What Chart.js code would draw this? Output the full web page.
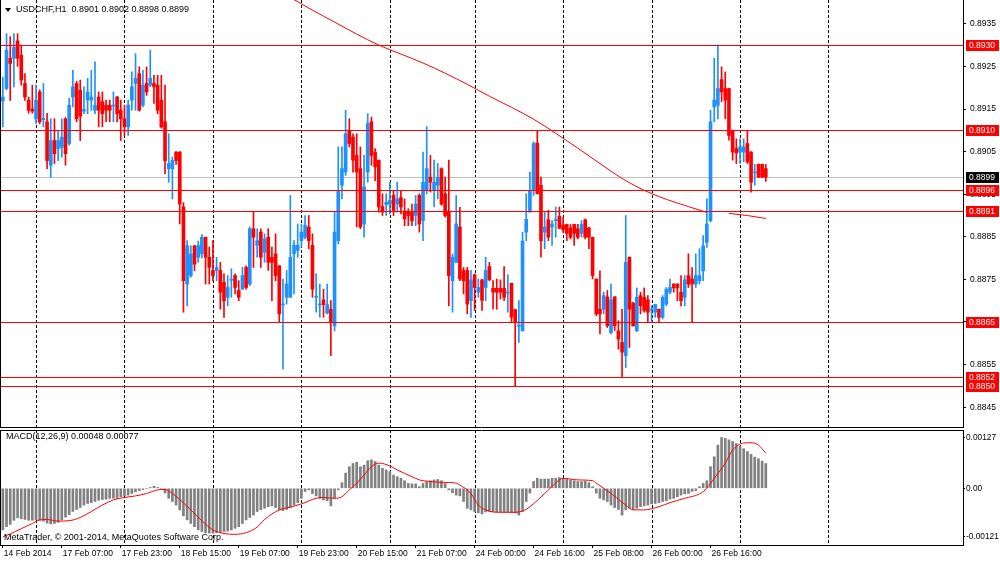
<!DOCTYPE html>
<html>
<head>
<meta charset="utf-8">
<title>USDCHF,H1</title>
<script src="https://cdn.jsdelivr.net/npm/chart.js@4.4.1/dist/chart.umd.min.js"></script>
<style>
  body { margin: 0; background: #fff; }
  #wrap { position: relative; width: 1000px; height: 561px; overflow: hidden; font-family: "Liberation Sans", Arial, sans-serif; }
  #wrap canvas { position: absolute; left: 0; }
  .txt { position: absolute; font-size: 9px; line-height: 11px; color: #000; white-space: pre; }
  .tri { position: absolute; left: 5px; top: 8px; width: 0; height: 0;
         border-left: 3px solid transparent; border-right: 3px solid transparent; border-top: 4px solid #000; }
</style>
</head>
<body>
<div id="wrap">
  <canvas id="price-graph" width="1000" height="430" style="top:0"></canvas>
  <canvas id="macd-graph" width="1000" height="131" style="top:430px"></canvas>
  <div class="tri"></div>
  <div class="txt" style="left:16px;top:4px">USDCHF,H1  0.8901 0.8902 0.8898 0.8899</div>
  <div class="txt" style="left:6px;top:431px">MACD(12,26,9) 0.00048 0.00077</div>
  <div class="txt" style="left:4px;top:532px">MetaTrader, © 2001-2014, MetaQuotes Software Corp.</div>
</div>
<script>
// H1 bars, 14 Feb 2014 15:00 .. 27 Feb 2014 07:00
var openP = [0.89169,0.89198,0.89269,0.89269,0.89310,0.89276,0.89210,0.89171,0.89150,0.89127,
  0.89190,0.89125,0.89120,0.89018,0.89076,0.89057,0.89060,0.89127,0.89069,0.89178,
  0.89210,0.89194,0.89145,0.89171,0.89171,0.89147,0.89178,0.89167,0.89159,0.89159,
  0.89157,0.89178,0.89147,0.89127,0.89108,0.89171,0.89210,0.89233,0.89159,0.89210,
  0.89206,0.89210,0.89206,0.89171,0.89120,0.89010,0.89010,0.89049,0.89049,0.88920,
  0.88739,0.88759,0.88829,0.88802,0.88810,0.88849,0.88802,0.88771,0.88771,0.88771,
  0.88743,0.88708,0.88748,0.88759,0.88724,0.88727,0.88778,0.88739,0.88869,0.88830,
  0.88861,0.88814,0.88849,0.88802,0.88810,0.88782,0.88690,0.88708,0.88708,0.88810,
  0.88818,0.88841,0.88849,0.88873,0.88830,0.88708,0.88690,0.88702,0.88671,0.88680,
  0.88641,0.88841,0.88971,0.89002,0.89100,0.89084,0.89041,0.89010,0.88880,0.89002,
  0.89120,0.89049,0.89030,0.88921,0.88926,0.88927,0.88947,0.88927,0.88942,0.88908,
  0.88908,0.88908,0.88900,0.88947,0.88888,0.88959,0.88990,0.88959,0.88971,0.89010,
  0.88951,0.88908,0.88747,0.88790,0.88873,0.88771,0.88771,0.88700,0.88761,0.88720,
  0.88749,0.88731,0.88780,0.88729,0.88729,0.88729,0.88729,0.88718,0.88741,0.88679,
  0.88640,0.88629,0.88861,0.88908,0.88959,0.89070,0.88971,0.88861,0.88890,0.88873,
  0.88888,0.88898,0.88878,0.88879,0.88871,0.88879,0.88869,0.88858,0.88890,0.88871,
  0.88849,0.88751,0.88680,0.88680,0.88709,0.88625,0.88709,0.88629,0.88602,0.88571,
  0.88802,0.88694,0.88629,0.88712,0.88708,0.88702,0.88678,0.88673,0.88680,0.88661,
  0.88692,0.88720,0.88739,0.88739,0.88720,0.88708,0.88759,0.88751,0.88739,0.88747,
  0.88770,0.88837,0.88888,0.89155,0.89159,0.89219,0.89198,0.89198,0.89100,0.89057,
  0.89049,0.89049,0.89069,0.89049,0.89000,0.89020,0.89020,0.89010];
var highP = [0.89225,0.89327,0.89320,0.89327,0.89327,0.89300,0.89233,0.89178,0.89206,0.89206,
  0.89195,0.89210,0.89140,0.89127,0.89127,0.89100,0.89127,0.89130,0.89175,0.89241,
  0.89215,0.89218,0.89202,0.89222,0.89241,0.89261,0.89190,0.89190,0.89171,0.89171,
  0.89190,0.89180,0.89171,0.89159,0.89171,0.89237,0.89280,0.89249,0.89241,0.89249,
  0.89288,0.89229,0.89229,0.89229,0.89206,0.89092,0.89037,0.89050,0.89050,0.88930,
  0.88841,0.88829,0.88830,0.88840,0.88855,0.88849,0.88826,0.88841,0.88802,0.88790,
  0.88763,0.88759,0.88775,0.88763,0.88747,0.88778,0.88782,0.88873,0.88908,0.88869,
  0.88869,0.88857,0.88869,0.88826,0.88857,0.88782,0.88751,0.88771,0.88947,0.88841,
  0.88880,0.88880,0.88900,0.88900,0.88857,0.88763,0.88739,0.88727,0.88739,0.88700,
  0.88908,0.89061,0.89061,0.89147,0.89127,0.89092,0.89092,0.89061,0.89041,0.89139,
  0.89131,0.89057,0.89030,0.88951,0.88951,0.88978,0.88959,0.88978,0.88959,0.88939,
  0.88916,0.88927,0.88947,0.88951,0.89049,0.89109,0.89041,0.89030,0.89022,0.89012,
  0.88990,0.89030,0.88810,0.88947,0.88919,0.88778,0.88778,0.88771,0.88763,0.88751,
  0.88751,0.88802,0.88790,0.88747,0.88751,0.88749,0.88780,0.88761,0.88741,0.88680,
  0.88700,0.88861,0.88951,0.89002,0.89073,0.89100,0.88990,0.88908,0.88912,0.88888,
  0.88920,0.88920,0.88896,0.88880,0.88879,0.88880,0.88879,0.88888,0.88892,0.88872,
  0.88849,0.88751,0.88770,0.88720,0.88724,0.88739,0.88710,0.88653,0.88680,0.88900,
  0.88803,0.88696,0.88730,0.88720,0.88730,0.88712,0.88688,0.88692,0.88681,0.88712,
  0.88731,0.88751,0.88740,0.88740,0.88759,0.88759,0.88810,0.88778,0.88810,0.88822,
  0.88853,0.88939,0.89147,0.89269,0.89300,0.89249,0.89237,0.89199,0.89101,0.89080,
  0.89080,0.89080,0.89100,0.89050,0.89020,0.89021,0.89021,0.89020];
var lowP = [0.89108,0.89195,0.89170,0.89202,0.89250,0.89206,0.89170,0.89140,0.89140,0.89116,
  0.89115,0.89108,0.89010,0.88990,0.89022,0.89029,0.89037,0.89018,0.89065,0.89155,
  0.89120,0.89076,0.89139,0.89139,0.89147,0.89139,0.89108,0.89108,0.89120,0.89120,
  0.89120,0.89120,0.89076,0.89088,0.89088,0.89147,0.89147,0.89145,0.89155,0.89182,
  0.89202,0.89163,0.89139,0.89105,0.88998,0.88978,0.88939,0.89020,0.88880,0.88673,
  0.88688,0.88755,0.88770,0.88790,0.88800,0.88739,0.88739,0.88747,0.88747,0.88680,
  0.88661,0.88688,0.88708,0.88716,0.88700,0.88727,0.88727,0.88735,0.88778,0.88802,
  0.88778,0.88790,0.88771,0.88700,0.88747,0.88649,0.88539,0.88692,0.88708,0.88716,
  0.88802,0.88826,0.88845,0.88822,0.88708,0.88673,0.88661,0.88661,0.88669,0.88571,
  0.88629,0.88833,0.88939,0.88994,0.89061,0.89002,0.88873,0.88869,0.88849,0.88978,
  0.89018,0.88982,0.88908,0.88900,0.88900,0.88904,0.88900,0.88908,0.88904,0.88876,
  0.88876,0.88876,0.88876,0.88861,0.88841,0.88951,0.88955,0.88920,0.88939,0.88924,
  0.88896,0.88688,0.88673,0.88790,0.88747,0.88716,0.88669,0.88661,0.88677,0.88708,
  0.88677,0.88700,0.88747,0.88680,0.88680,0.88704,0.88700,0.88673,0.88649,0.88500,
  0.88602,0.88629,0.88841,0.88908,0.88947,0.88951,0.88802,0.88822,0.88841,0.88830,
  0.88849,0.88869,0.88861,0.88841,0.88845,0.88830,0.88845,0.88849,0.88845,0.88822,
  0.88751,0.88665,0.88622,0.88669,0.88637,0.88622,0.88630,0.88586,0.88520,0.88543,
  0.88590,0.88640,0.88628,0.88669,0.88673,0.88649,0.88649,0.88661,0.88649,0.88657,
  0.88688,0.88716,0.88720,0.88700,0.88688,0.88688,0.88731,0.88649,0.88731,0.88739,
  0.88747,0.88825,0.88885,0.89120,0.89127,0.89167,0.89127,0.89077,0.89030,0.89022,
  0.89022,0.89026,0.89022,0.88955,0.88971,0.88989,0.88989,0.88980];
var closeP = [0.89178,0.89288,0.89257,0.89295,0.89269,0.89218,0.89178,0.89147,0.89145,0.89171,
  0.89120,0.89128,0.89029,0.89076,0.89045,0.89076,0.89084,0.89045,0.89159,0.89202,
  0.89127,0.89133,0.89149,0.89190,0.89178,0.89159,0.89147,0.89139,0.89147,0.89147,
  0.89159,0.89139,0.89127,0.89108,0.89159,0.89202,0.89222,0.89147,0.89206,0.89190,
  0.89222,0.89202,0.89147,0.89108,0.89029,0.89022,0.89029,0.89029,0.88927,0.88747,
  0.88829,0.88810,0.88786,0.88829,0.88849,0.88802,0.88778,0.88759,0.88778,0.88720,
  0.88700,0.88731,0.88750,0.88731,0.88708,0.88759,0.88731,0.88869,0.88849,0.88841,
  0.88802,0.88845,0.88790,0.88790,0.88759,0.88669,0.88692,0.88739,0.88802,0.88830,
  0.88830,0.88861,0.88877,0.88841,0.88727,0.88710,0.88692,0.88691,0.88691,0.88649,
  0.88861,0.88959,0.89010,0.89092,0.89069,0.89030,0.89002,0.88873,0.88967,0.89116,
  0.89041,0.89014,0.88920,0.88908,0.88931,0.88935,0.88912,0.88939,0.88920,0.88892,
  0.88900,0.88888,0.88927,0.88880,0.88978,0.89010,0.88978,0.88978,0.88990,0.88927,
  0.88900,0.88759,0.88802,0.88880,0.88751,0.88747,0.88692,0.88749,0.88731,0.88731,
  0.88701,0.88771,0.88749,0.88720,0.88720,0.88720,0.88708,0.88720,0.88661,0.88649,
  0.88642,0.88840,0.88891,0.88959,0.89069,0.88951,0.88841,0.88873,0.88849,0.88880,
  0.88890,0.88870,0.88867,0.88858,0.88849,0.88858,0.88849,0.88879,0.88849,0.88849,
  0.88759,0.88669,0.88669,0.88712,0.88641,0.88702,0.88641,0.88610,0.88579,0.88790,
  0.88680,0.88641,0.88708,0.88688,0.88677,0.88673,0.88680,0.88691,0.88661,0.88708,
  0.88727,0.88731,0.88730,0.88730,0.88700,0.88749,0.88739,0.88739,0.88759,0.88759,
  0.88829,0.88880,0.89120,0.89171,0.89198,0.89190,0.89171,0.89088,0.89049,0.89047,
  0.89061,0.89061,0.89026,0.88978,0.89002,0.88990,0.88990,0.88990];

// moving average (two pieces, it breaks at 26 Feb 17:00)
var maBarsA = [78, 84, 90, 96, 102, 108, 114, 120, 126, 132, 138, 144, 150, 156, 162, 168, 174, 180, 186, 191];
var maValuesA = [0.89412, 0.89382, 0.89354, 0.89326, 0.89300, 0.89279, 0.89258, 0.89234, 0.89208, 0.89180,
  0.89154, 0.89126, 0.89093, 0.89058, 0.89022, 0.88987, 0.88959, 0.88938, 0.88921, 0.88907];
var maBarsB = [197, 202, 207];
var maValuesB = [0.88905, 0.88900, 0.88893];

// MACD(12,26,9) histogram, one value per bar
var macdMain = [-0.00104,-0.00096,-0.00090,-0.00080,-0.00074,-0.00076,-0.00078,-0.00080,-0.00080,-0.00079,
  -0.00080,-0.00082,-0.00087,-0.00089,-0.00088,-0.00085,-0.00079,-0.00072,-0.00066,-0.00058,
  -0.00053,-0.00048,-0.00042,-0.00038,-0.00036,-0.00033,-0.00030,-0.00028,-0.00027,-0.00025,
  -0.00025,-0.00025,-0.00021,-0.00019,-0.00017,-0.00013,-0.00009,-0.00006,-0.00003,0.00000,
  0.00002,0.00005,0.00002,-0.00003,-0.00012,-0.00025,-0.00033,-0.00042,-0.00054,-0.00069,
  -0.00079,-0.00088,-0.00096,-0.00104,-0.00108,-0.00111,-0.00112,-0.00112,-0.00111,-0.00111,
  -0.00108,-0.00107,-0.00104,-0.00100,-0.00096,-0.00088,-0.00079,-0.00073,-0.00067,-0.00058,
  -0.00054,-0.00050,-0.00046,-0.00044,-0.00048,-0.00054,-0.00056,-0.00053,-0.00048,-0.00042,
  -0.00036,-0.00025,-0.00008,-0.00004,-0.00013,-0.00019,-0.00025,-0.00029,-0.00031,-0.00044,
  -0.00025,-0.00004,0.00014,0.00038,0.00054,0.00062,0.00065,0.00054,0.00058,0.00069,
  0.00071,0.00067,0.00058,0.00050,0.00046,0.00042,0.00033,0.00029,0.00025,0.00019,
  0.00012,0.00011,0.00011,0.00004,0.00012,0.00017,0.00019,0.00021,0.00022,0.00019,
  0.00012,-0.00004,-0.00011,-0.00017,-0.00019,-0.00033,-0.00050,-0.00054,-0.00058,-0.00061,
  -0.00064,-0.00059,-0.00058,-0.00059,-0.00059,-0.00059,-0.00059,-0.00059,-0.00061,-0.00062,
  -0.00067,-0.00058,-0.00033,-0.00012,0.00017,0.00025,0.00023,0.00023,0.00023,0.00025,
  0.00025,0.00027,0.00025,0.00023,0.00021,0.00019,0.00017,0.00017,0.00018,0.00014,
  0.00004,-0.00012,-0.00025,-0.00029,-0.00033,-0.00042,-0.00048,-0.00053,-0.00067,-0.00054,
  -0.00050,-0.00053,-0.00050,-0.00046,-0.00044,-0.00042,-0.00039,-0.00038,-0.00036,-0.00033,
  -0.00031,-0.00027,-0.00025,-0.00021,-0.00017,-0.00014,-0.00013,-0.00008,-0.00006,0.00004,
  0.00012,0.00019,0.00054,0.00079,0.00108,0.00127,0.00125,0.00121,0.00117,0.00112,
  0.00105,0.00099,0.00092,0.00085,0.00078,0.00074,0.00068,0.00062];

// signal line, read at these bars
var signalBars = [0, 2, 5, 8, 10, 12, 15, 18, 21, 24, 27, 30, 33, 36, 39, 42, 44, 46, 48, 51, 54, 57, 60, 63, 66, 69,
  71, 75, 78, 81, 85, 87, 90, 92, 94, 96, 98, 100, 102, 105, 107, 111, 113, 116, 119, 123, 124, 127, 129, 132, 135,
  138, 141, 143, 147, 150, 152, 156, 160, 161, 165, 169, 171, 174, 178, 181, 185, 189, 191, 193, 196, 198, 201, 203, 205, 207];
var signalValues = [-0.00121,-0.00114,-0.00101,-0.00088,-0.00079,-0.00078,-0.00082,-0.00081,-0.00073,-0.00058,
  -0.00042,-0.00029,-0.00023,-0.00019,-0.00013,-0.00004,-0.00003,-0.00013,-0.00028,-0.00054,
  -0.00081,-0.00104,-0.00113,-0.00115,-0.00111,-0.00097,
  -0.00078,-0.00054,-0.00047,-0.00039,-0.00025,-0.00023,-0.00025,-0.00021,-0.00004,0.00013,
  0.00033,0.00054,0.00063,0.00056,0.00046,0.00029,0.00021,0.00017,0.00015,0.00013,0.00008,
  -0.00013,-0.00042,-0.00057,-0.00060,
  -0.00060,-0.00057,-0.00046,-0.00013,0.00013,0.00025,0.00021,0.00019,0.00013,-0.00013,
  -0.00042,-0.00054,-0.00054,-0.00046,-0.00036,-0.00025,-0.00014,0.00000,0.00025,0.00063,
  0.00096,0.00113,0.00114,0.00108,0.00088];

// horizontal lines and labels
var levels = [0.8850, 0.8852, 0.8865, 0.8891, 0.8896, 0.8910, 0.8930];
var bidPrice = 0.8899;
var priceTicks = [0.8935, 0.8925, 0.8915, 0.8905, 0.8895, 0.8885, 0.8875, 0.8865, 0.8855, 0.8845];
var macdTicks = [0.00127, 0, -0.00121];
var dateLabels = ['14 Feb 2014', '17 Feb 07:00', '17 Feb 23:00', '18 Feb 15:00', '19 Feb 07:00', '19 Feb 23:00',
  '20 Feb 15:00', '21 Feb 07:00', '24 Feb 00:00', '24 Feb 16:00', '25 Feb 08:00', '26 Feb 00:00', '26 Feb 16:00'];
var labelEvery = 16;
var daySeparators = [9, 33, 57, 81, 105, 128, 152, 176, 200, 224];
var barCount = 261;   // bar slots that fit in the window

var FONT = '"Liberation Sans", Arial, sans-serif';
var UP = '#1e90ff', DOWN = '#ff0000';
Chart.defaults.font.family = FONT;
Chart.defaults.font.size = 8.5;
Chart.defaults.color = '#000';

var barLabels = [];
for (var i = 0; i < barCount; i++) barLabels.push(String(i));

function knots(bars, values) {
  var out = new Array(barCount).fill(null);
  bars.forEach(function (b, k) { out[b] = values[k]; });
  return out;
}

function fmt4(v) { return (Math.round(v * 10000) / 10000).toFixed(4); }

// no extra room for edge labels, the panes fill the canvas
function noPad(scale) {
  scale.paddingTop = 0;
  scale.paddingBottom = 0;
  scale.paddingLeft = 0;
  scale.paddingRight = 0;
}

var wicks = [], bodies = [], colors = [];
for (var i = 0; i < openP.length; i++) {
  var hi = Math.max(highP[i], openP[i], closeP[i]);
  var lo = Math.min(lowP[i], openP[i], closeP[i]);
  wicks.push([lo, hi]);
  bodies.push([openP[i], closeP[i]]);
  colors.push(closeP[i] >= openP[i] ? UP : DOWN);
}

// dashed day separators and pane frame
var separators = {
  id: 'separators',
  beforeDatasetsDraw: function (chart) {
    var ctx = chart.ctx, a = chart.chartArea, x = chart.scales.x;
    ctx.save();
    ctx.strokeStyle = '#000';
    ctx.lineWidth = 1;
    ctx.setLineDash([3, 2]);
    daySeparators.forEach(function (b) {
      var px = Math.round(x.getPixelForValue(b)) + 0.5;
      ctx.beginPath();
      ctx.moveTo(px, a.top);
      ctx.lineTo(px, a.bottom);
      ctx.stroke();
    });
    ctx.restore();
  },
  afterDraw: function (chart) {
    var ctx = chart.ctx, a = chart.chartArea;
    ctx.save();
    ctx.strokeStyle = '#000';
    ctx.lineWidth = 1;
    ctx.beginPath();
    ctx.moveTo(0.5, a.top);
    ctx.lineTo(0.5, a.bottom);
    ctx.moveTo(0, a.bottom + 0.5);
    ctx.lineTo(a.right, a.bottom + 0.5);
    if (chart.canvas.id === 'macd-graph') {
      ctx.moveTo(0, 0.5);
      ctx.lineTo(a.right, 0.5);
    }
    ctx.stroke();
    ctx.restore();
  }
};

function tag(ctx, x, y, text, bg) {
  y = Math.round(y);
  ctx.fillStyle = bg;
  ctx.fillRect(x, y - 5, 33, 11);
  ctx.fillStyle = '#fff';
  ctx.font = '8.5px ' + FONT;
  ctx.textBaseline = 'middle';
  ctx.textAlign = 'left';
  ctx.fillText(text, x + 3, y + 0.5);
}

// bid line, red levels and their price tags
var priceLines = {
  id: 'priceLines',
  beforeDatasetsDraw: function (chart) {
    var ctx = chart.ctx, a = chart.chartArea, y = chart.scales.y;
    var py = Math.round(y.getPixelForValue(bidPrice)) + 0.5;
    ctx.save();
    ctx.strokeStyle = '#c0c0c0';
    ctx.lineWidth = 1;
    ctx.beginPath();
    ctx.moveTo(a.left, py);
    ctx.lineTo(a.right, py);
    ctx.stroke();
    ctx.restore();
  },
  afterDatasetsDraw: function (chart) {
    var ctx = chart.ctx, a = chart.chartArea, y = chart.scales.y;
    ctx.save();
    ctx.strokeStyle = '#ff0000';
    ctx.lineWidth = 1;
    levels.forEach(function (v) {
      var py = Math.round(y.getPixelForValue(v)) + 0.5;
      ctx.beginPath();
      ctx.moveTo(a.left, py);
      ctx.lineTo(a.right, py);
      ctx.stroke();
    });
    ctx.restore();
  },
  afterDraw: function (chart) {
    var ctx = chart.ctx, a = chart.chartArea, y = chart.scales.y;
    ctx.save();
    levels.forEach(function (v) {
      tag(ctx, a.right + 3, y.getPixelForValue(v), fmt4(v), '#ff0000');
    });
    tag(ctx, a.right + 3, y.getPixelForValue(bidPrice), fmt4(bidPrice), '#000');
    ctx.restore();
  }
};

var ctx = document.getElementById('price-graph').getContext('2d');
var PriceChart = new Chart(ctx, {
  type: 'bar',
  data: {
    labels: barLabels,
    datasets: [
      {
        label: 'bodies',
        data: bodies,
        backgroundColor: colors,
        barThickness: 3,
        minBarLength: 1,
        grouped: false,
        order: 1
      },
      {
        label: 'wicks',
        data: wicks,
        backgroundColor: colors,
        barThickness: 1,
        grouped: false,
        order: 2
      },
      {
        type: 'line',
        label: 'MA',
        data: knots(maBarsA, maValuesA),
        borderColor: '#ff0000',
        borderWidth: 1,
        pointRadius: 0,
        spanGaps: true,
        cubicInterpolationMode: 'monotone',
        order: 0
      },
      {
        type: 'line',
        label: 'MA2',
        data: knots(maBarsB, maValuesB),
        borderColor: '#ff0000',
        borderWidth: 1,
        pointRadius: 0,
        spanGaps: true,
        order: 0
      }
    ]
  },
  options: {
    responsive: false,
    animation: false,
    devicePixelRatio: 1,
    events: [],
    layout: { padding: { left: 1, right: 0, top: 0, bottom: 3 } },
    plugins: { legend: { display: false }, tooltip: { enabled: false } },
    scales: {
      x: { type: 'category', offset: true, display: false, grid: { offset: false } },
      y: {
        position: 'right',
        min: 0.884035,
        max: 0.894059,
        afterBuildTicks: function (scale) {
          scale.ticks = priceTicks.map(function (v) { return { value: v }; });
        },
        afterFit: function (scale) { scale.width = 37; noPad(scale); },
        grid: { drawOnChartArea: false, tickLength: 3, color: '#000' },
        border: { display: true, color: '#000' },
        ticks: {
          padding: 4,
          autoSkip: false,
          callback: function (v) { return fmt4(v); }
        }
      }
    }
  },
  plugins: [separators, priceLines]
});

var ctx = document.getElementById('macd-graph').getContext('2d');
var MacdChart = new Chart(ctx, {
  type: 'bar',
  data: {
    labels: barLabels,
    datasets: [
      {
        type: 'line',
        label: 'Signal',
        data: knots(signalBars, signalValues),
        borderColor: '#ff0000',
        borderWidth: 1,
        pointRadius: 0,
        spanGaps: true,
        cubicInterpolationMode: 'monotone',
        order: 0
      },
      {
        label: 'MACD',
        data: macdMain,
        backgroundColor: '#808080',
        barThickness: 2,
        order: 1
      }
    ]
  },
  options: {
    responsive: false,
    animation: false,
    devicePixelRatio: 1,
    events: [],
    layout: { padding: { left: 1, right: 0, top: 0, bottom: 0 } },
    plugins: { legend: { display: false }, tooltip: { enabled: false } },
    scales: {
      x: {
        type: 'category',
        offset: true,
        afterBuildTicks: function (scale) {
          scale.ticks = dateLabels.map(function (t, k) { return { value: k * labelEvery }; });
        },
        afterFit: function (scale) { scale.height = 16; noPad(scale); },
        grid: { offset: false, drawOnChartArea: false, tickLength: 3, color: '#000' },
        border: { display: true, color: '#000' },
        ticks: {
          autoSkip: false,
          maxRotation: 0,
          align: 'start',
          labelOffset: 1,
          padding: 1,
          callback: function (v) { return dateLabels[v / labelEvery]; }
        }
      },
      y: {
        position: 'right',
        min: -0.0014175,
        max: 0.0014575,
        afterBuildTicks: function (scale) {
          scale.ticks = macdTicks.map(function (v) { return { value: v }; });
        },
        afterFit: function (scale) { scale.width = 37; noPad(scale); },
        grid: { drawOnChartArea: false, tickLength: 2, color: '#000' },
        border: { display: true, color: '#000' },
        ticks: {
          padding: 1,
          autoSkip: false,
          font: { size: 8.3 },
          callback: function (v) { return v === 0 ? '0.00' : Number(v).toFixed(5); }
        }
      }
    }
  },
  plugins: [separators]
});
</script>
</body>
</html>
